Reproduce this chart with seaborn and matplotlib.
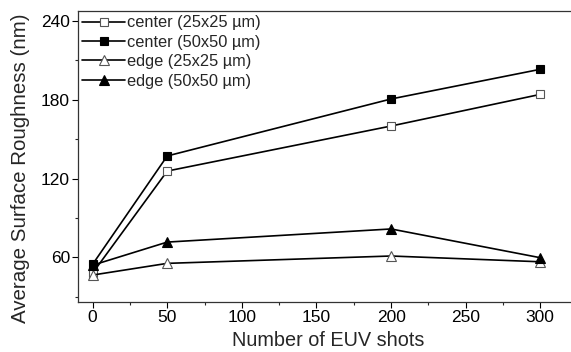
import matplotlib
matplotlib.use("Agg")
import matplotlib.pyplot as plt
import seaborn as sns
import pandas as pd
from matplotlib.ticker import MultipleLocator

shots = [0, 50, 200, 300]
center_25 = [48.0, 125.7, 160.0, 184.1]
center_50 = [54.7, 137.2, 180.6, 203.2]
edge_25 = [46.5, 55.4, 61.0, 56.6]
edge_50 = [54.0, 71.6, 81.6, 59.7]
labels = ["center (25x25 µm)", "center (50x50 µm)", "edge (25x25 µm)", "edge (50x50 µm)"]
markers = ["s", "s", "^", "^"]
filled = [False, True, False, True]

sns.set_theme(style="ticks")
plt.rcParams['font.family'] = ['Liberation Sans', 'DejaVu Sans']

fig = plt.figure(figsize=(5.71, 3.52), dpi=100)
ax = fig.add_axes([78.3 / 571, 1 - 301.7 / 352, (578 - 78.3) / 571, (301.7 - 11) / 352])

series = [center_25, center_50, edge_25, edge_50]
for vals, lab, mk, fl in zip(series, labels, markers, filled):
    df = pd.DataFrame({"x": shots, "y": vals})
    sns.lineplot(data=df, x="x", y="y", ax=ax, color="black", linewidth=1.2,
                 marker=mk, markersize=6 if mk == "s" else 7,
                 markerfacecolor="black" if fl else "white",
                 markeredgecolor="black" if fl else "#555555",
                 markeredgewidth=0.8, label=lab)

ax.set_xlim(-9.6, (578 - 92.7) / 1.492)
ax.set_ylim(26.2, 247.6)
ax.xaxis.set_major_locator(MultipleLocator(50))
ax.xaxis.set_minor_locator(MultipleLocator(25))
ax.yaxis.set_major_locator(MultipleLocator(60))
ax.yaxis.set_minor_locator(MultipleLocator(30))
ax.tick_params(which="major", direction="out", length=4, width=0.8, labelsize=12.5, colors="black", pad=2)
ax.tick_params(which="minor", direction="out", length=2.5, width=0.8)
for s in ax.spines.values():
    s.set_linewidth(0.9)
    s.set_color("#333333")
ax.spines["right"].set_visible(False)
ax.set_xlabel("Number of EUV shots", fontsize=14.3, labelpad=4)
ax.set_ylabel("Average Surface Roughness (nm)", fontsize=14.8, labelpad=2)
ax.yaxis.set_label_coords(-0.097, 0.458)

leg = ax.legend(loc="upper left", frameon=False, fontsize=11.8, handlelength=2.6,
                handletextpad=0.15, labelspacing=0.27, borderaxespad=0.0,
                borderpad=0.0, bbox_to_anchor=(0.008, 0.985))

fig.savefig("out.png", dpi=100)
